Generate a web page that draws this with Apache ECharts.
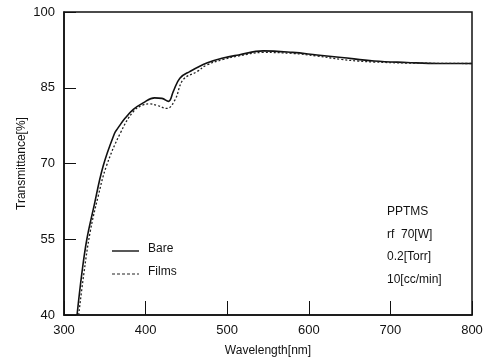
<!DOCTYPE html>
<html><head><meta charset="utf-8">
<script src="https://cdn.jsdelivr.net/npm/echarts@6/dist/echarts.min.js"></script>
<style>html,body{margin:0;padding:0;background:#fff}#c{width:496px;height:362px}</style>
</head><body><div id="c"></div>
<script>
const xTicks = [300, 400, 500, 600, 700, 800];
const yTicks = [40, 55, 70, 85, 100];
const bareWl = [316, 322, 328, 336, 348, 362, 366, 375, 385, 397, 411, 420, 428, 434, 442, 454, 475, 495, 514, 544, 580, 610, 640, 680, 720, 760, 800];
const bareT  = [40, 48.4, 55, 61, 69.5, 76, 77, 79, 80.7, 82.0, 83.0, 82.9, 82.3, 84.3, 86.9, 88.2, 89.9, 90.9, 91.5, 92.3, 92.0, 91.5, 91.0, 90.3, 90.0, 89.8, 89.8];
const filmsWl = [318, 324, 332, 342, 352, 369, 385, 397, 405, 414, 426, 436, 446, 463, 475, 495, 514, 544, 580, 610, 640, 660, 680, 720, 800];
const filmsT  = [40, 47.8, 56.4, 63.6, 69.5, 76, 80.3, 81.6, 81.8, 81.5, 80.9, 82.6, 86.6, 88.2, 89.5, 90.6, 91.3, 92.0, 91.8, 91.3, 90.6, 90.3, 90.1, 89.9, 89.8];
const seriesNames = ['Bare', 'Films'];
const noteLines = ['PPTMS', 'rf  70[W]', '0.2[Torr]', '10[cc/min]'];

const FONT = 'Liberation Sans';
const chart = echarts.init(document.getElementById('c'));
const zip = (a, b) => a.map((v, i) => [v, b[i]]);
const L = 64, T = 12, R = 472, B = 316;
chart.setOption({
  animation: false,
  grid: {left: L, top: T, right: 496 - R, bottom: 362 - B, show: true, borderColor: '#111', borderWidth: 1.5, backgroundColor: 'transparent'},
  xAxis: {
    type: 'value', min: 300, max: 800, interval: 100,
    name: 'Wavelength[nm]', nameLocation: 'middle', nameGap: 30,
    nameTextStyle: {fontFamily: FONT, fontSize: 12, color: '#111'},
    axisLine: {lineStyle: {color: '#111', width: 1.5}},
    axisTick: {inside: true, length: 14, lineStyle: {color: '#111', width: 1}},
    axisLabel: {fontFamily: FONT, fontSize: 13, color: '#111', margin: 9,
      formatter: v => xTicks.includes(v) ? String(v) : ''},
    splitLine: {show: false}
  },
  yAxis: {
    type: 'value', min: 40, max: 100, interval: 15,
    name: 'Transmittance[%]', nameLocation: 'middle', nameGap: 36, nameMoveOverlap: false,
    nameTextStyle: {fontFamily: FONT, fontSize: 12, color: '#111'},
    axisLine: {lineStyle: {color: '#111', width: 1.5}},
    axisTick: {inside: true, length: 12, lineStyle: {color: '#111', width: 1}},
    axisLabel: {fontFamily: FONT, fontSize: 13, color: '#111', margin: 9,
      formatter: v => yTicks.includes(v) ? String(v) : ''},
    splitLine: {show: false}
  },
  series: [
    {name: seriesNames[0], type: 'line', data: zip(bareWl, bareT), smooth: 0.4, symbol: 'none',
     lineStyle: {color: '#111', width: 1.6}},
    {name: seriesNames[1], type: 'line', data: zip(filmsWl, filmsT), smooth: 0.4, symbol: 'none',
     lineStyle: {color: '#222', width: 1.3, type: [2, 2]}}
  ],
  graphic: [
    {type: 'line', shape: {x1: 112, y1: 251, x2: 139, y2: 251}, style: {stroke: '#111', lineWidth: 1.4}},
    {type: 'text', left: 148, top: 243, style: {text: seriesNames[0], font: '12px ' + FONT, fill: '#111'}},
    {type: 'line', shape: {x1: 112, y1: 274, x2: 139, y2: 274}, style: {stroke: '#222', lineWidth: 1.1, lineDash: [3, 2]}},
    {type: 'text', left: 148, top: 266, style: {text: seriesNames[1], font: '12px ' + FONT, fill: '#111'}},
    ...noteLines.map((t, i) => ({type: 'text', left: 387, top: 206 + i * 22.5,
      style: {text: t, font: '12px ' + FONT, fill: '#111'}}))
  ]
});
</script></body></html>
